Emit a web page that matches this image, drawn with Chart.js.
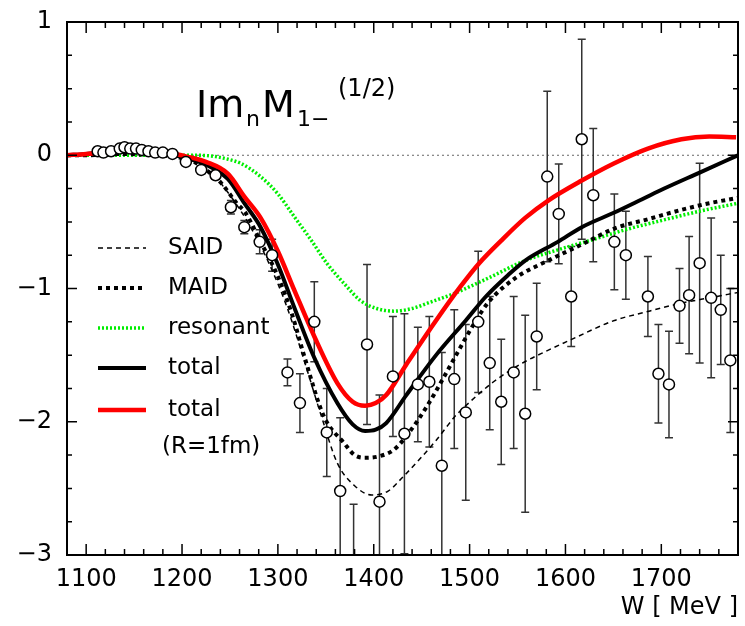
<!DOCTYPE html>
<html>
<head>
<meta charset="utf-8">
<script src="https://cdn.jsdelivr.net/npm/chart.js@4.4.1/dist/chart.umd.min.js"></script>
<style>
  html, body { margin: 0; padding: 0; background: #fff; }
</style>
</head>
<body>
<canvas id="chart" width="745" height="626"></canvas>
<script>
// axis ticks
const xTicks = [1100, 1200, 1300, 1400, 1500, 1600, 1700];
const yTicks = [-3, -2, -1, 0, 1];

// SAID (thin dashed)
const saidW   = [1080, 1100, 1150, 1190, 1210, 1230, 1250, 1270, 1290, 1310, 1330, 1345, 1362, 1380, 1398, 1415, 1431, 1448, 1465, 1486, 1499, 1525, 1555, 1580, 1607, 1651, 1682, 1721, 1750, 1780];
const saidVal = [0, 0.0, 0.02, 0.0, -0.04, -0.13, -0.3, -0.52, -0.8, -1.15, -1.6, -1.95, -2.31, -2.48, -2.55, -2.52, -2.41, -2.28, -2.14, -1.95, -1.86, -1.70, -1.56, -1.47, -1.38, -1.24, -1.18, -1.11, -1.07, -1.03];

// MAID (thick dotted)
const maidW   = [1080, 1100, 1140, 1170, 1190, 1210, 1225, 1241, 1257, 1266, 1282, 1300, 1315, 1328, 1348, 1369, 1380, 1391, 1405, 1421, 1438, 1455, 1472, 1489, 1505, 1520, 1548, 1582, 1617, 1651, 1686, 1721, 1750, 1780];
const maidVal = [0, 0.0, 0.01, 0.0, -0.01, -0.04, -0.11, -0.21, -0.36, -0.43, -0.65, -0.91, -1.2, -1.52, -1.96, -2.16, -2.25, -2.27, -2.26, -2.21, -2.07, -1.89, -1.68, -1.46, -1.26, -1.10, -0.92, -0.79, -0.67, -0.55, -0.48, -0.41, -0.36, -0.32];

// resonant (green dotted)
const resW   = [1080, 1150, 1200, 1216, 1235, 1248, 1261, 1282, 1300, 1317, 1335, 1351, 1370, 1386, 1403, 1421, 1440, 1460, 1483, 1520, 1558, 1592, 1630, 1662, 1700, 1740, 1780];
const resVal = [0, 0, 0, 0, -0.01, -0.03, -0.06, -0.16, -0.29, -0.46, -0.64, -0.81, -0.97, -1.09, -1.15, -1.17, -1.15, -1.10, -1.04, -0.92, -0.79, -0.71, -0.63, -0.56, -0.49, -0.42, -0.36];

// total (black solid)
const totW   = [1080, 1100, 1130, 1160, 1185, 1205, 1225, 1248, 1265, 1282, 1300, 1317, 1338, 1362, 1378, 1391, 1402, 1413, 1434, 1465, 1496, 1517, 1540, 1558, 1592, 1617, 1651, 1680, 1703, 1740, 1780];
const totVal = [0, 0.01, 0.03, 0.03, 0.01, -0.02, -0.07, -0.18, -0.36, -0.54, -0.82, -1.14, -1.52, -1.86, -2.02, -2.07, -2.06, -2.01, -1.80, -1.50, -1.24, -1.06, -0.90, -0.79, -0.65, -0.54, -0.43, -0.33, -0.25, -0.13, 0.0];

// total R=1fm (red)
const redW   = [1080, 1100, 1130, 1160, 1185, 1205, 1225, 1248, 1265, 1282, 1300, 1317, 1338, 1362, 1378, 1391, 1402, 1413, 1434, 1465, 1490, 1510, 1533, 1558, 1582, 1617, 1651, 1686, 1721, 1750, 1778];
const redVal = [0, 0.01, 0.03, 0.04, 0.02, -0.01, -0.05, -0.14, -0.31, -0.47, -0.72, -1.01, -1.36, -1.71, -1.85, -1.88, -1.86, -1.80, -1.57, -1.24, -0.99, -0.81, -0.64, -0.47, -0.34, -0.19, -0.06, 0.05, 0.12, 0.14, 0.135];

// measured points
const ptW   = [1112, 1118, 1126, 1135, 1140, 1146, 1152, 1158, 1165, 1172, 1180, 1190, 1204, 1220, 1235, 1251, 1265, 1281, 1294,
               1310, 1323, 1338, 1351, 1365, 1379, 1393, 1406, 1420, 1432, 1446, 1458, 1471, 1484, 1496, 1509, 1521, 1533, 1546, 1558, 1570,
               1581, 1593, 1606, 1617, 1629, 1651, 1663, 1686, 1697, 1708, 1719, 1729, 1740, 1752, 1762, 1772];
const ptVal = [0.03, 0.02, 0.03, 0.05, 0.06, 0.05, 0.05, 0.04, 0.03, 0.02, 0.02, 0.01, -0.05, -0.11, -0.15, -0.39, -0.54, -0.65, -0.75,
               -1.63, -1.86, -1.25, -2.08, -2.52, -3.3, -1.42, -2.60, -1.66, -2.09, -1.72, -1.70, -2.33, -1.68, -1.93, -1.25, -1.56, -1.85, -1.63, -1.94, -1.36,
               -0.16, -0.44, -1.06, 0.12, -0.30, -0.65, -0.75, -1.06, -1.64, -1.72, -1.13, -1.05, -0.81, -1.07, -1.16, -1.54];
const ptErr = [0.02, 0.02, 0.02, 0.02, 0.02, 0.02, 0.02, 0.02, 0.02, 0.02, 0.02, 0.02, 0.02, 0.03, 0.03, 0.05, 0.05, 0.09, 0.12,
               0.1, 0.22, 0.3, 0.33, 0.55, 0.68, 0.6, 0.8, 0.45, 0.9, 0.43, 0.49, 0.85, 0.52, 0.66, 0.53, 0.5, 0.47, 0.57, 0.74, 0.4,
               0.64, 0.375, 0.375, 0.75, 0.5, 0.36, 0.33, 0.3, 0.37, 0.4, 0.28, 0.44, 0.75, 0.6, 0.41, 0.54];

const legendItems = [
  { label: 'SAID', color: '#000', width: 1.5, dash: [5, 4] },
  { label: 'MAID', color: '#000', width: 4, dash: [4, 4] },
  { label: 'resonant', color: '#00ee00', width: 3.5, dash: [2, 2] },
  { label: 'total', color: '#000', width: 4, dash: [] },
  { label: 'total', color: '#ff0000', width: 4.5, dash: [] }
];

const FONT = '"DejaVu Sans", sans-serif';

function pairs(xs, ys) {
  return xs.map((x, i) => ({ x: x, y: ys[i] }));
}

function fmt(v) {
  return v < 0 ? '\u2212' + Math.abs(v) : String(v);
}

// frame, inward ticks, zero line, error bars, legend and label
const decorPlugin = {
  id: 'decor',
  beforeDatasetsDraw(chart) {
    const { ctx, chartArea: a, scales: { x, y } } = chart;
    ctx.save();
    // zero line
    ctx.strokeStyle = '#666';
    ctx.lineWidth = 1;
    ctx.setLineDash([2, 3]);
    ctx.beginPath();
    ctx.moveTo(a.left, y.getPixelForValue(0));
    ctx.lineTo(a.right, y.getPixelForValue(0));
    ctx.stroke();
    ctx.setLineDash([]);
    // error bars
    ctx.beginPath();
    ctx.rect(a.left, a.top, a.right - a.left, a.bottom - a.top);
    ctx.clip();
    ctx.strokeStyle = '#333';
    ctx.lineWidth = 1.5;
    ptW.forEach((w, i) => {
      const px = x.getPixelForValue(w);
      const y1 = y.getPixelForValue(ptVal[i] + ptErr[i]);
      const y2 = y.getPixelForValue(ptVal[i] - ptErr[i]);
      ctx.beginPath();
      ctx.moveTo(px, y1); ctx.lineTo(px, y2);
      ctx.moveTo(px - 4, y1); ctx.lineTo(px + 4, y1);
      ctx.moveTo(px - 4, y2); ctx.lineTo(px + 4, y2);
      ctx.stroke();
    });
    ctx.restore();
  },
  afterDraw(chart) {
    const { ctx, chartArea: a, scales: { x, y } } = chart;
    ctx.save();
    ctx.strokeStyle = '#000';
    ctx.lineWidth = 2;
    ctx.strokeRect(a.left, a.top, a.right - a.left, a.bottom - a.top);
    ctx.lineWidth = 1.5;
    ctx.beginPath();
    for (let w = 1080; w <= 1780; w += 20) {
      const px = x.getPixelForValue(w);
      const len = w % 100 === 0 ? 11 : 6;
      ctx.moveTo(px, a.bottom); ctx.lineTo(px, a.bottom - len);
      ctx.moveTo(px, a.top); ctx.lineTo(px, a.top + len);
    }
    for (let k = -12; k <= 4; k++) {
      const py = y.getPixelForValue(k / 4);
      const len = k % 4 === 0 ? 10 : 5;
      ctx.moveTo(a.left, py); ctx.lineTo(a.left + len, py);
      ctx.moveTo(a.right, py); ctx.lineTo(a.right - len, py);
    }
    ctx.stroke();

    // legend
    ctx.fillStyle = '#000';
    ctx.font = '23px ' + FONT;
    ctx.textBaseline = 'middle';
    const rows = [248, 288, 328, 368, 410];
    legendItems.forEach((it, i) => {
      ctx.strokeStyle = it.color;
      ctx.lineWidth = it.width;
      ctx.setLineDash(it.dash);
      ctx.beginPath();
      ctx.moveTo(98, rows[i]);
      ctx.lineTo(146, rows[i]);
      ctx.stroke();
      ctx.fillText(it.label, 168, rows[i]);
    });
    ctx.setLineDash([]);
    ctx.fillText('(R=1fm)', 162, 447);

    // title Im nM1-(1/2)
    ctx.textBaseline = 'alphabetic';
    ctx.font = '38px ' + FONT;
    ctx.fillText('Im', 196, 117);
    ctx.font = '22px ' + FONT;
    ctx.fillText('n', 246, 126);
    ctx.font = '38px ' + FONT;
    ctx.fillText('M', 262, 117);
    ctx.font = '22px ' + FONT;
    ctx.fillText('1\u2212', 297, 126);
    ctx.font = '24px ' + FONT;
    ctx.fillText('(1/2)', 338, 96);
    ctx.restore();
  }
};

const lineBase = { showLine: true, pointRadius: 0, fill: false, cubicInterpolationMode: 'monotone', borderCapStyle: 'butt' };

new Chart(document.getElementById('chart'), {
  type: 'scatter',
  data: {
    datasets: [
      { label: 'data', data: pairs(ptW, ptVal), pointRadius: 5.5, pointBackgroundColor: '#fff', pointBorderColor: '#000', pointBorderWidth: 1.5, showLine: false },
      Object.assign({ label: 'total (R=1fm)', data: pairs(redW, redVal), borderColor: '#ff0000', borderWidth: 4.5 }, lineBase),
      Object.assign({ label: 'total', data: pairs(totW, totVal), borderColor: '#000', borderWidth: 4 }, lineBase),
      Object.assign({ label: 'MAID', data: pairs(maidW, maidVal), borderColor: '#000', borderWidth: 4, borderDash: [4, 4] }, lineBase),
      Object.assign({ label: 'SAID', data: pairs(saidW, saidVal), borderColor: '#000', borderWidth: 1.5, borderDash: [5, 4] }, lineBase),
      Object.assign({ label: 'resonant', data: pairs(resW, resVal), borderColor: '#00ee00', borderWidth: 3.5, borderDash: [2, 2] }, lineBase)
    ]
  },
  options: {
    responsive: false,
    animation: false,
    layout: { padding: { top: 22, right: 3, left: 0, bottom: 0 } },
    plugins: { legend: { display: false }, tooltip: { enabled: false } },
    scales: {
      x: {
        type: 'linear', min: 1080, max: 1780,
        afterFit: s => { s.height = 71; s.paddingLeft = 0; s.paddingRight = 0; },
        afterBuildTicks: s => { s.ticks = xTicks.map(v => ({ value: v })); },
        grid: { display: false, drawTicks: false },
        border: { display: false },
        ticks: { color: '#000', font: { family: FONT, size: 24 }, padding: 10, maxRotation: 0, callback: v => String(v) },
        title: { display: true, text: 'W [ MeV ]', align: 'end', color: '#000', font: { family: FONT, size: 24 }, padding: { top: 0, bottom: 4 } }
      },
      y: {
        type: 'linear', min: -3, max: 1,
        afterFit: s => { s.width = 67; s.paddingTop = 0; s.paddingBottom = 0; },
        afterBuildTicks: s => { s.ticks = yTicks.map(v => ({ value: v })); },
        grid: { display: false, drawTicks: false },
        border: { display: false },
        ticks: { color: '#000', font: { family: FONT, size: 24 }, padding: 15, callback: v => fmt(v) }
      }
    }
  },
  plugins: [decorPlugin]
});
</script>
</body>
</html>
